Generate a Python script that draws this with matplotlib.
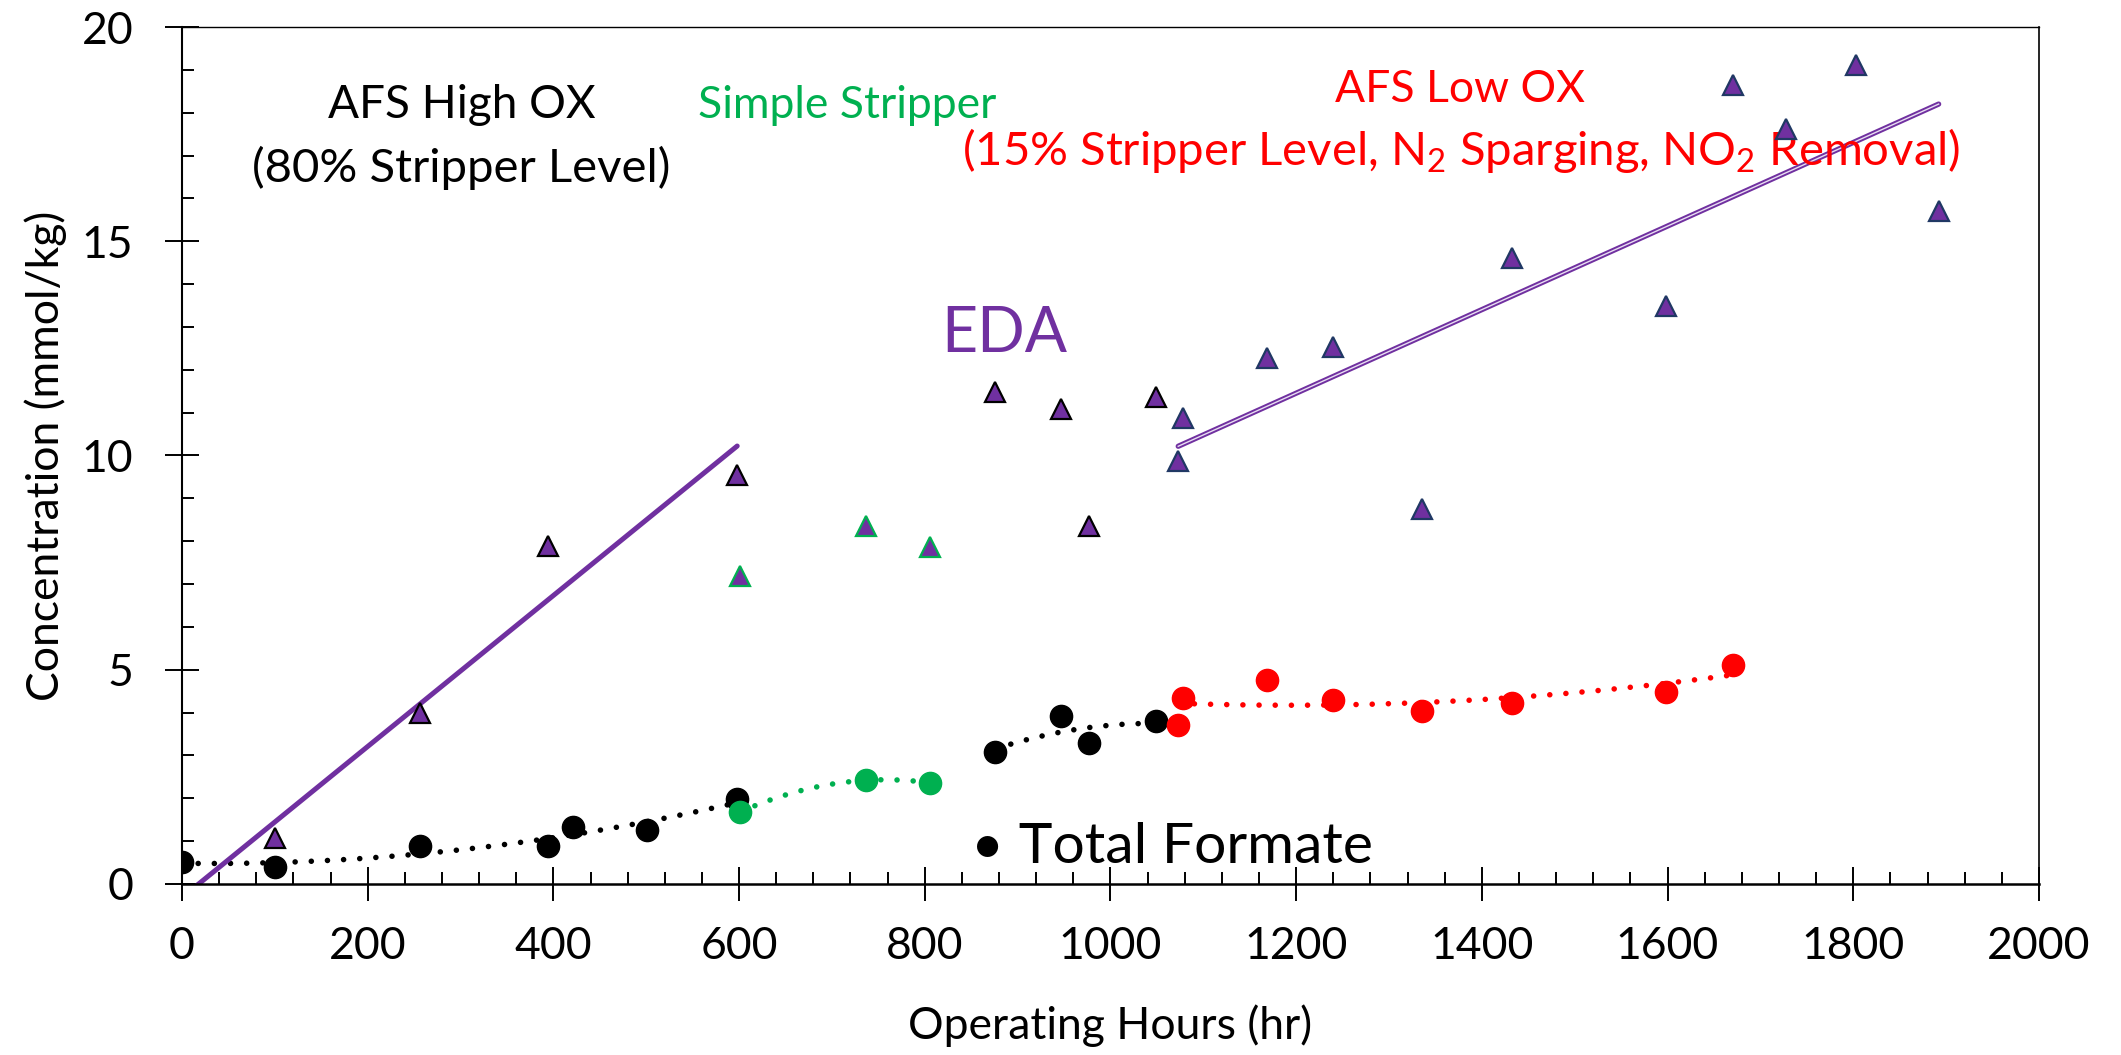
import numpy as np
import matplotlib.pyplot as plt

plt.rcParams['font.family'] = ['Lato', 'DejaVu Sans']
plt.rcParams['mathtext.fontset'] = 'custom'
plt.rcParams['mathtext.rm'] = 'Lato'
plt.rcParams['mathtext.it'] = 'Lato:italic'

# Total formate, by period
hrs_high1 = [0, 100, 256, 394, 421, 501, 598]
fmt_high1 = [0.51, 0.39, 0.88, 0.89, 1.32, 1.27, 1.99]
hrs_strip = [601, 737, 806]
fmt_strip = [1.68, 2.42, 2.36]
hrs_high2 = [876, 947, 977, 1049]
fmt_high2 = [3.09, 3.91, 3.29, 3.81]
hrs_low = [1073, 1078, 1169, 1240, 1336, 1433, 1598, 1671]
fmt_low = [3.71, 4.34, 4.75, 4.30, 4.03, 4.22, 4.48, 5.10]

# EDA
eda_hrs_high = [100, 256, 394, 598, 876, 947, 977, 1049]
eda_high = [1.07, 3.99, 7.89, 9.54, 11.49, 11.08, 8.36, 11.37]
eda_hrs_strip = [601, 737, 806]
eda_strip = [7.18, 8.36, 7.86]
eda_hrs_low = [1073, 1078, 1169, 1240, 1336, 1433, 1598, 1671, 1728, 1803, 1892]
eda_low = [9.87, 10.87, 12.28, 12.54, 8.74, 14.61, 13.50, 18.65, 17.62, 19.11, 15.71]

PURPLE = '#7030A0'
GREEN = '#00B050'
RED = '#FF0000'
NAVY = '#203864'

fig = plt.figure(figsize=(21.21, 10.55), dpi=100)
ax = fig.add_axes([0.0858, 0.1621, 0.8755, 0.8123])

# formate trendlines (2nd order polynomial, dotted)
dots = dict(lw=4, linestyle=(0, (0.01, 2.9)), dash_capstyle='round', zorder=2)
for xs, ys, c in [(hrs_high1, fmt_high1, 'black'), (hrs_strip, fmt_strip, GREEN),
                  (hrs_high2, fmt_high2, 'black'), (hrs_low, fmt_low, RED)]:
    p = np.polyfit(xs, ys, 2)
    xx = np.linspace(min(xs), max(xs), 200)
    ax.plot(xx, np.polyval(p, xx), color=c, **dots)

# EDA linear trendlines
p1 = np.polyfit(eda_hrs_high[:4], eda_high[:4], 1)
xx = np.linspace(0, eda_hrs_high[3], 50)
ax.plot(xx, np.polyval(p1, xx), color=PURPLE, lw=3.6, zorder=2, solid_capstyle='round')
p2 = np.polyfit(eda_hrs_low, eda_low, 1)
xx = np.linspace(eda_hrs_low[0], eda_hrs_low[-1], 50)
ax.plot(xx, np.polyval(p2, xx), color=PURPLE, lw=3.8, zorder=2, solid_capstyle='round')
ax.plot(xx, np.polyval(p2, xx), color='#E8DDF2', lw=1.0, zorder=2)

# formate markers
ms = 16
ax.plot(hrs_high1, fmt_high1, 'o', color='black', ms=ms, zorder=4)
ax.plot(hrs_strip, fmt_strip, 'o', color=GREEN, ms=ms, zorder=4)
ax.plot(hrs_high2, fmt_high2, 'o', color='black', ms=ms, zorder=4)
ax.plot(hrs_low, fmt_low, 'o', color=RED, ms=ms, zorder=4)

# EDA markers
ax.plot(eda_hrs_high, eda_high, '^', color=PURPLE, mec='black', mew=1.6, ms=15, zorder=4)
ax.plot(eda_hrs_strip, eda_strip, '^', color=PURPLE, mec=GREEN, mew=1.6, ms=15, zorder=4)
ax.plot(eda_hrs_low, eda_low, '^', color=PURPLE, mec=NAVY, mew=1.6, ms=15, zorder=4)

ax.set_xlim(0, 2000)
ax.set_ylim(0, 20)
ax.set_xticks(np.arange(0, 2001, 200))
ax.set_xticks(np.arange(0, 2001, 40), minor=True)
ax.set_yticks(np.arange(0, 21, 5))
ax.set_yticks(np.arange(0, 21, 1), minor=True)
ax.tick_params(which='major', direction='inout', length=24, width=1.4, labelsize=32)
ax.tick_params(which='minor', direction='in', length=8.6, width=1.4)
ax.tick_params(axis='x', which='major', pad=18)
ax.tick_params(axis='y', which='major', pad=23)

ax.spines['bottom'].set_linewidth(1.8)
ax.spines['left'].set_linewidth(1.5)
ax.spines['top'].set_linewidth(1.0)
ax.spines['right'].set_linewidth(1.2)

ax.set_xlabel('Operating Hours (hr)', fontsize=32)
ax.set_ylabel('Concentration (mmol/kg)', fontsize=32)
ax.xaxis.set_label_coords(0.5, -0.14)
ax.yaxis.set_label_coords(-0.062, 0.5)

tr = ax.transAxes
ax.text(0.1508, 0.8938, 'AFS High OX', fontsize=33, ha='center', va='baseline', transform=tr)
ax.text(0.1502, 0.8191, '(80% Stripper Level)', fontsize=34, ha='center', va='baseline', transform=tr)
ax.text(0.358, 0.8938, 'Simple Stripper', fontsize=32, color=GREEN, ha='center', va='baseline', transform=tr)
ax.text(0.6882, 0.9125, 'AFS Low OX', fontsize=32, color=RED, ha='center', va='baseline', transform=tr)
ax.text(0.6887, 0.839, '(15% Stripper Level, N$_2$ Sparging, NO$_2$ Removal)', fontsize=34,
        color=RED, ha='center', va='baseline', transform=tr)
ax.text(0.4427, 0.6208, 'EDA', fontsize=45, color=PURPLE, ha='center', va='baseline', transform=tr)
ax.text(0.4249, 0.0245, '• Total Formate', fontsize=41, ha='left', va='baseline', transform=tr)

plt.savefig('out.png', dpi=100)
